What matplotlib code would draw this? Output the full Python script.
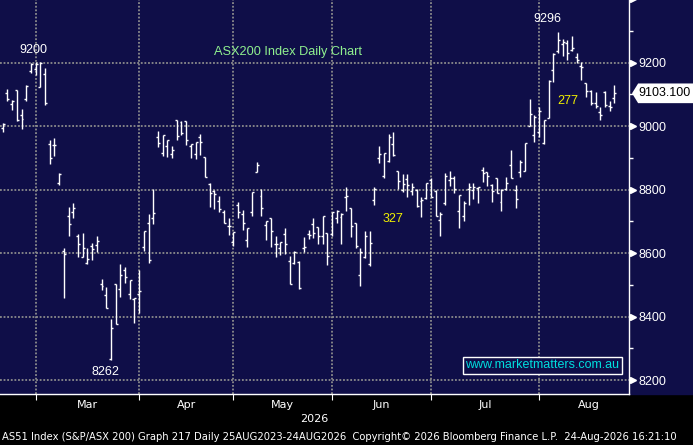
import matplotlib
matplotlib.use("Agg")
import matplotlib.pyplot as plt
import matplotlib.transforms as mtransforms
from matplotlib.patches import Rectangle, Polygon
import numpy as np

# daily OHLC, ASX200, 19 Feb - 24 Aug 2026
opens = [8994, 9104, 9069, 9114, 9035, 9085, 9174,
         9180, 9124, 9163, 8942, 8941, 8822, 8605, 8717, 8729, 8654, 8587,
         8568, 8621, 8626, 8502, 8469, 8265, 8501, 8488, 8545, 8472, 8456,
         8472, 8620, 8696, 8710, 8967, 8915, 8936, 8913, 9020, 9014, 9017,
         8936, 8913, 8967, 8903, 8818, 8794, 8765, 8728, 8684,
         8636, 8752, 8723, 8641, 8728, 8855, 8780, 8689, 8710, 8629, 8616,
         8660, 8575, 8568, 8571, 8617, 8660, 8693, 8683, 8655, 8663,
         8660, 8710, 8714, 8778, 8741, 8695, 8532, 8586, 8564, 8768, 8899,
         8844, 8890, 8944, 8859, 8799, 8834, 8794, 8797, 8763, 8773,
         8829, 8794, 8704, 8759, 8829, 8836, 8731, 8716, 8801, 8798, 8805,
         8862, 8855, 8815, 8836, 8760, 8801, 8878, 8799, 8855, 8859, 9001, 8972,
         8980, 8947, 9025, 9177, 9235, 9258, 9263, 9240, 9217, 9190, 9135,
         9109, 9072, 9045, 9108, 9063, 9088]
highs = [9010, 9117, 9083, 9114, 9053, 9130, 9198,
         9201, 9202, 9182, 8956, 8963, 8851, 8616, 8746, 8758, 8661, 8664,
         8616, 8632, 8654, 8519, 8492, 8392, 8501, 8564, 8556, 8516, 8458,
         8547, 8668, 8723, 8801, 8985, 8972, 8957, 8936, 9020, 9017, 9017,
         8944, 8951, 8975, 8903, 8822, 8797, 8780, 8734, 8710,
         8666, 8762, 8736, 8678, 8792, 8886, 8801, 8700, 8710, 8654, 8636,
         8678, 8591, 8606, 8576, 8651, 8674, 8710, 8683, 8718, 8663,
         8729, 8736, 8726, 8808, 8741, 8695, 8616, 8670, 8670, 8808, 8938,
         8915, 8975, 8980, 8859, 8848, 8848, 8820, 8801, 8778, 8821,
         8836, 8798, 8730, 8852, 8857, 8843, 8784, 8763, 8820, 8822, 8808,
         8870, 8855, 8818, 8836, 8801, 8839, 8925, 8815, 8894, 8948, 9085, 9035,
         9060, 9020, 9145, 9230, 9296, 9274, 9270, 9284, 9230, 9203, 9135,
         9114, 9106, 9061, 9111, 9079, 9128]
lows = [8981, 9079, 9051, 9015, 8990, 9079, 9167,
        9162, 9122, 9066, 8881, 8907, 8815, 8459, 8655, 8711, 8589, 8587,
        8566, 8577, 8602, 8484, 8427, 8262, 8376, 8462, 8505, 8455, 8379,
        8411, 8605, 8568, 8691, 8934, 8906, 8903, 8900, 8957, 8972, 8941,
        8900, 8895, 8909, 8841, 8746, 8738, 8730, 8696, 8657,
        8621, 8711, 8673, 8620, 8718, 8855, 8717, 8642, 8618, 8589, 8594,
        8598, 8502, 8564, 8487, 8604, 8645, 8648, 8629, 8627, 8561,
        8654, 8696, 8629, 8731, 8651, 8616, 8495, 8584, 8558, 8750, 8885,
        8836, 8888, 8906, 8801, 8792, 8776, 8783, 8746, 8715, 8771,
        8776, 8717, 8653, 8752, 8812, 8788, 8678, 8700, 8752, 8769, 8759,
        8825, 8811, 8760, 8789, 8733, 8799, 8836, 8742, 8841, 8857, 9001, 8951,
        8967, 8944, 9025, 9140, 9230, 9221, 9207, 9235, 9198, 9145, 9093,
        9067, 9056, 9019, 9061, 9048, 9072]
closes = [9007, 9086, 9080, 9020, 9023, 9127, 9195,
          9195, 9200, 9074, 8900, 8941, 8848, 8597, 8692, 8741, 8628, 8616,
          8581, 8613, 8639, 8497, 8427, 8364, 8376, 8532, 8524, 8516, 8458,
          8481, 8668, 8579, 8726, 8948, 8972, 8957, 8925, 8969, 8977, 8955,
          8944, 8951, 8951, 8841, 8790, 8786, 8738, 8696, 8686,
          8665, 8729, 8694, 8678, 8792, 8878, 8741, 8700, 8670, 8629, 8636,
          8629, 8502, 8603, 8489, 8620, 8657, 8663, 8655, 8718, 8591,
          8729, 8731, 8723, 8781, 8686, 8621, 8602, 8653, 8632, 8801, 8912,
          8915, 8965, 8909, 8827, 8818, 8813, 8808, 8749, 8768, 8821,
          8778, 8717, 8723, 8843, 8836, 8801, 8784, 8759, 8809, 8809, 8808,
          8852, 8844, 8794, 8789, 8798, 8820, 8836, 8770, 8888, 8947, 9039, 9030,
          9046, 9018, 9143, 9227, 9271, 9266, 9230, 9247, 9208, 9185, 9110,
          9074, 9063, 9035, 9065, 9061, 9103.1]

month_names = ["Mar", "Apr", "May", "Jun", "Jul", "Aug"]
month_starts = [7, 29, 49, 70, 91, 114]
month_ends = [29, 49, 70, 91, 114, 135]
last_price = closes[-1]

navy = "#0f0e48"
grid_col = "#8c8c8c"
sans = ["Liberation Sans", "DejaVu Sans"]

fig = plt.figure(figsize=(6.93, 4.45), dpi=100, facecolor="black")
bot = 51 / 445
fig.patches.append(Rectangle((0, bot), 1, 1 - bot, transform=fig.transFigure,
                             color=navy, zorder=-5))
ax = fig.add_axes([0, bot, 629 / 693, 1 - bot])
ax.set_zorder(2)
ax.set_facecolor(navy)

x = np.arange(len(closes))
w = 0.42
ax.vlines(x, lows, highs, color="white", lw=1.0, zorder=3)
ax.hlines(opens, x - w, x, color="white", lw=1.0, zorder=3)
ax.hlines(closes, x, x + w, color="white", lw=1.0, zorder=3)

ax.set_xlim(-0.57, 133.1)
ax.set_ylim(8156, 9397)

for s in ["top", "left"]:
    ax.spines[s].set_visible(False)
for s in ["bottom", "right"]:
    ax.spines[s].set_color("white")
    ax.spines[s].set_linewidth(1.0)

# y axis on the right
yt = list(range(8200, 9201, 200))
ax.yaxis.tick_right()
ax.set_yticks(yt)
ax.set_yticks(list(range(8300, 9400, 200)), minor=True)
ax.tick_params(axis="y", which="major", length=0, pad=7, labelcolor="white",
               labelsize=9)
ax.tick_params(axis="y", which="minor", length=3, color="white", width=1)
for lab in ax.get_yticklabels():
    lab.set_family(sans)
tr = mtransforms.blended_transform_factory(ax.transAxes, ax.transData)
ax.plot([1.0064] * (len(yt) + 1), yt + [9400], ls="none", marker=">",
        ms=5, color="white", transform=tr, clip_on=False, zorder=5)

# x axis: month boundaries + labels
ax.set_xticks(month_starts)
ax.set_xticklabels([])
ax.set_xticks([(a + b) / 2 for a, b in zip(month_starts, month_ends)], minor=True)
ax.set_xticklabels(month_names, minor=True)
ax.tick_params(axis="x", which="major", length=4, color="white", direction="out")
ax.tick_params(axis="x", which="minor", length=0, pad=4, labelcolor="white",
               labelsize=8)

ax.grid(True, which="major", color=grid_col, linestyle=(0, (1, 1)), lw=1.3)
ax.set_axisbelow(True)

# annotations
ax.text(6.5, 9240, "9200", color="white", fontsize=9, family=sans,
        ha="center", va="center")
ax.text(21.8, 8226, "8262", color="white", fontsize=9, family=sans,
        ha="center", va="center")
ax.text(115.8, 9338, "9296", color="white", fontsize=9, family=sans,
        ha="center", va="center")
ax.text(83, 8707, "327", color="#f0f000", fontsize=9, family=sans,
        ha="center", va="center")
ax.text(120, 9079, "277", color="#f0f000", fontsize=9, family=sans,
        ha="center", va="center")
ax.text(60.6, 9234, "ASX200 Index Daily Chart", color="#8ff08f", fontsize=9.2,
        family=sans, ha="center", va="center")
ax.text(114.7, 8246, "www.marketmatters.com.au", color="#00dede", fontsize=9,
        family=sans, ha="center", va="center", zorder=6,
        bbox=dict(boxstyle="square,pad=0.2", fc=navy, ec="white", lw=1.0))

# last price tag
h = 31
tag = Polygon([(1.0048, last_price), (1.0145, last_price + h), (1.11, last_price + h),
               (1.11, last_price - h), (1.0145, last_price - h)],
              closed=True, transform=tr, fc="white", ec="none", clip_on=False,
              zorder=6)
ax.add_patch(tag)
ax.text(1.0145, last_price, f"{last_price:.3f}", transform=tr, color="black",
        fontsize=9, family=sans, ha="left", va="center", zorder=7)

fig.text(314 / 693, 1 - 419 / 445, "2026", color="white", fontsize=8,
         ha="center", va="center")
fig.text(2 / 693, 1 - 437 / 445,
         "AS51 Index (S&P/ASX 200) Graph 217 Daily 25AUG2023-24AUG2026  "
         "Copyright\u00a9 2026 Bloomberg Finance L.P.  24-Aug-2026 16:21:10",
         color="white", fontsize=7.2, ha="left", va="center")

fig.savefig("out.png", dpi=100, facecolor="black")
